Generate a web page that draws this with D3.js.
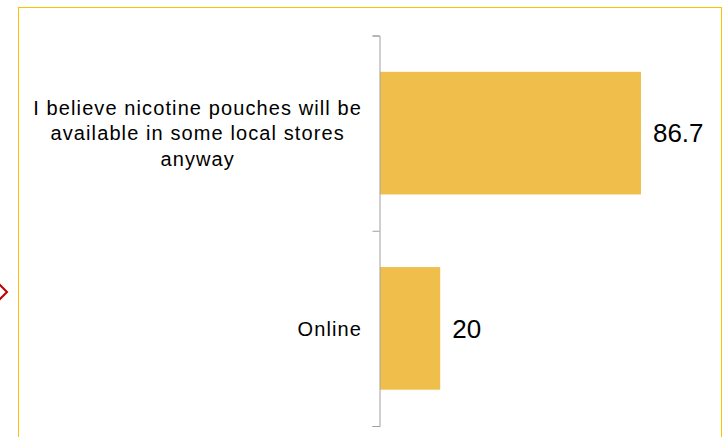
<!DOCTYPE html>
<html>
<head>
<meta charset="utf-8">
<script src="https://cdn.jsdelivr.net/npm/d3@7"></script>
<style>
  body { margin: 0; background: #fff; }
</style>
</head>
<body>
<div id="chart"></div>
<script>
var categories = ["I believe nicotine pouches will be available in some local stores anyway", "Online"];
var values = [86.7, 20];
var xMax = 100;

var margin = {top: 35.5, right: 44, bottom: 11, left: 380};
var fullWidth = 725;
var fullHeight = 437;
var width = fullWidth - margin.left - margin.right;
var height = fullHeight - margin.top - margin.bottom;

var svg = d3.select("#chart").append("svg")
    .attr("width", fullWidth)
    .attr("height", fullHeight);

// slide frame
svg.append("rect")
    .attr("x", 18.5)
    .attr("y", 7.5)
    .attr("width", 703)
    .attr("height", 450)
    .style("fill", "none")
    .style("stroke", "#FFC000")
    .style("stroke-width", 1);

// little red arrow on the left edge
svg.append("path")
    .attr("d", "M-1,284 L7,292 L-1,300")
    .style("fill", "none")
    .style("stroke", "#C00000")
    .style("stroke-width", 2);

var g = svg.append("g")
    .attr("transform", "translate(" + margin.left + "," + margin.top + ")");

var x = d3.scaleLinear().domain([0, xMax]).range([0, 301]);

var y = d3.scaleBand()
    .domain(categories)
    .range([0, height])
    .paddingInner(0.372)
    .paddingOuter(0.186);

g.selectAll(".bar")
    .data(values)
    .enter()
    .append("rect")
        .attr("class", "bar")
        .attr("x", x(0))
        .attr("y", function(d, i) { return y(categories[i]); })
        .attr("width", function(d) { return x(d) - x(0); })
        .attr("height", y.bandwidth())
        .style("fill", "#F0BE4A");

// value labels
g.selectAll(".val")
    .data(values)
    .enter()
    .append("text")
        .attr("class", "val")
        .attr("x", function(d) { return x(d) + 12; })
        .attr("y", function(d, i) { return y(categories[i]) + y.bandwidth() / 2; })
        .attr("dy", "0.36em")
        .text(function(d) { return d; })
        .style("font-family", "Arial, 'Liberation Sans', sans-serif")
        .style("font-size", "26px")
        .style("fill", "#000");

// axis with ticks on the category boundaries
var yEdge = d3.scaleLinear().domain([0, categories.length]).range([0, height]);
var axis = g.append("g")
    .attr("transform", "translate(-0.5,0)")
    .call(d3.axisLeft(yEdge).ticks(categories.length).tickSize(7).tickFormat(""));
axis.selectAll("path, line").style("stroke", "#A0A0A0");

// category labels, wrapped and centred in a right-aligned box
var labelRight = -18;
var maxW = 330;
var lineH = 25.5;

categories.forEach(function(c, i) {
    var t = g.append("text")
        .style("font-family", "Arial, 'Liberation Sans', sans-serif")
        .style("font-size", "20px")
        .style("letter-spacing", "1.1px")
        .style("fill", "#000");
    var words = c.split(" ");
    var lines = [];
    var line = [];
    var tmp = t.append("tspan");
    words.forEach(function(w) {
        line.push(w);
        tmp.text(line.join(" "));
        if (tmp.node().getComputedTextLength() > maxW && line.length > 1) {
            line.pop();
            lines.push(line.join(" "));
            line = [w];
        }
    });
    lines.push(line.join(" "));
    var widest = 0;
    lines.forEach(function(l) {
        tmp.text(l);
        widest = Math.max(widest, tmp.node().getComputedTextLength());
    });
    tmp.remove();
    var cx = labelRight - widest / 2;
    var mid = y(c) + y.bandwidth() / 2;
    var first = mid - (lines.length - 1) * lineH / 2;
    lines.forEach(function(l, k) {
        t.append("tspan")
            .attr("x", cx)
            .attr("y", first + k * lineH)
            .attr("dy", "0.36em")
            .attr("text-anchor", "middle")
            .text(l);
    });
});
</script>
</body>
</html>
